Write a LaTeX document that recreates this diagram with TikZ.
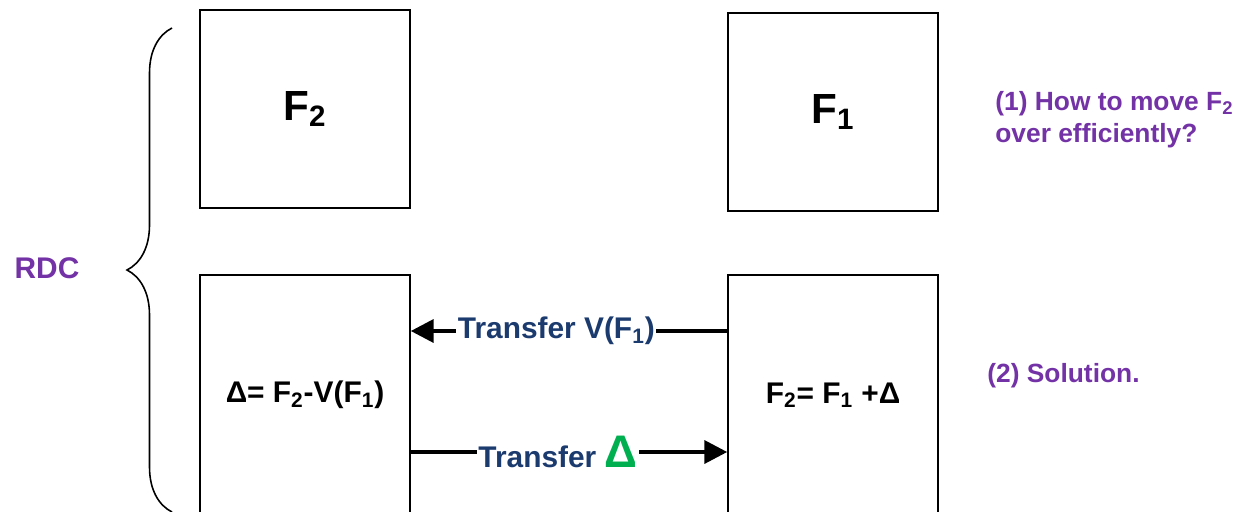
\documentclass[tikz,border=0pt]{standalone}
\usepackage{fontspec}
\setmainfont{Liberation Sans}
\usetikzlibrary{positioning,arrows.meta,calc,decorations.pathreplacing}
\definecolor{NotePurple}{HTML}{7332A6}
\definecolor{TransferNavy}{HTML}{1B3A6E}
\definecolor{DeltaGreen}{HTML}{00B050}
\newcommand{\sub}[1]{\textsubscript{#1}}

\begin{document}
\begin{tikzpicture}[
  x=0.02cm,y=-0.02cm,
  block/.style={draw=black,line width=0.9pt,minimum width=4.2cm,
                minimum height=3.96cm,inner sep=0pt,
                font=\bfseries\fontsize{24}{28}\selectfont},
  lowblock/.style={block,minimum height=4.8cm,
                   font=\bfseries\fontsize{17}{20}\selectfont},
  note/.style={align=left,text=NotePurple,inner sep=0pt,
               font=\bfseries\fontsize{15}{18}\selectfont},
  flow/.style={-{Triangle[length=13pt,width=13pt]},line width=2.2pt},
  edge/.style={fill=white,text=TransferNavy,inner sep=1pt,
               font=\bfseries\fontsize{17}{20}\selectfont}
]
\useasboundingbox (0,0) rectangle (1240,511);

% The two files and the two sides of the transfer
\node[block] (oldfile) at (305,109) {F\sub{2}};
\node[block] (newfile) at (833,112) {F\sub{1}};
\node[lowblock] (sender) at (305,395) {Δ= F\sub{2}-V(F\sub{1})};
\node[lowblock] (receiver) at (833,395) {F\sub{2}= F\sub{1} +Δ};

\draw[flow] ($(receiver.west)+(0,-64)$) -- node[edge,pos=0.54] {Transfer V(F\sub{1})}
  ($(sender.east)+(0,-64)$);
\draw[flow] ($(sender.east)+(0,57)$) -- node[edge,pos=0.465]
  {Transfer {\color{DeltaGreen}\fontsize{26}{26}\selectfont Δ}}
  ($(receiver.west)+(0,57)$);

% Brace and remarks
\coordinate (braceLow) at (172,512);
\coordinate (braceHigh) at (172,28);
\draw[line width=0.9pt,decorate,decoration={brace,amplitude=0.9cm}]
  (braceLow) -- (braceHigh);
\node[note,anchor=base] (rdc) at (47,278) {\fontsize{17}{20}\selectfont RDC};

\node[note,anchor=north west] (question) at (995,91)
  {(1) How to move F\sub{2}\\over efficiently?};
\node[note,anchor=base west] (answer) at (987,382) {(2) Solution.};
\end{tikzpicture}
\end{document}
